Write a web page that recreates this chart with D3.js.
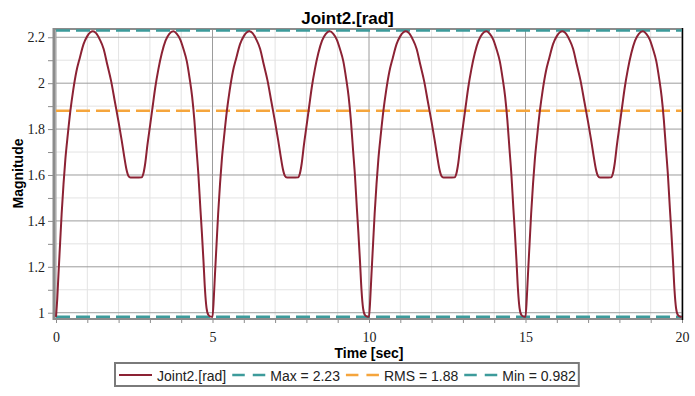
<!DOCTYPE html>
<html>
<head>
<meta charset="utf-8">
<script src="https://cdn.jsdelivr.net/npm/d3@7"></script>
<style>
  body { margin: 0; background: #fff; }
  .tick text { font-family: "Liberation Serif", "DejaVu Serif", "Times New Roman", serif !important; }
</style>
</head>
<body>
<div id="vis"></div>
<script>
// values
const time = [
  0.00,0.04,0.08,0.13,0.18,0.24,0.30,0.38,0.46,0.55,0.65,0.76,0.88,1.00,1.10,1.18,1.28,1.40,1.52,1.64,1.76,1.88,2.00,2.10,2.18,2.25,2.31,2.38,2.55,2.74,2.79,2.85,2.92,3.00,3.08,3.17,3.27,3.38,3.50,3.62,3.75,3.86,3.97,4.07,4.18,4.27,4.35,4.42,4.49,4.55,4.61,4.66,4.71,4.76,4.81,4.87,4.94,
  5.00,5.04,5.08,5.13,5.18,5.24,5.30,5.38,5.46,5.55,5.65,5.76,5.88,6.00,6.10,6.18,6.28,6.40,6.52,6.64,6.76,6.88,7.00,7.10,7.18,7.25,7.31,7.38,7.55,7.74,7.79,7.85,7.92,8.00,8.08,8.17,8.27,8.38,8.50,8.62,8.75,8.86,8.97,9.07,9.18,9.27,9.35,9.42,9.49,9.55,9.61,9.66,9.71,9.76,9.81,9.87,9.94,
  10.00,10.04,10.08,10.13,10.18,10.24,10.30,10.38,10.46,10.55,10.65,10.76,10.88,11.00,11.10,11.18,11.28,11.40,11.52,11.64,11.76,11.88,12.00,12.10,12.18,12.25,12.31,12.38,12.55,12.74,12.79,12.85,12.92,13.00,13.08,13.17,13.27,13.38,13.50,13.62,13.75,13.86,13.97,14.07,14.18,14.27,14.35,14.42,14.49,14.55,14.61,14.66,14.71,14.76,14.81,14.87,14.94,
  15.00,15.04,15.08,15.13,15.18,15.24,15.30,15.38,15.46,15.55,15.65,15.76,15.88,16.00,16.10,16.18,16.28,16.40,16.52,16.64,16.76,16.88,17.00,17.10,17.18,17.25,17.31,17.38,17.55,17.74,17.79,17.85,17.92,18.00,18.08,18.17,18.27,18.38,18.50,18.62,18.75,18.86,18.97,19.07,19.18,19.27,19.35,19.42,19.49,19.55,19.61,19.66,19.71,19.76,19.81,19.87,19.94,
  20.00
];
const joint2 = [
  0.982,1.06,1.17,1.30,1.43,1.56,1.67,1.78,1.88,1.97,2.05,2.11,2.17,2.205,2.222,2.226,2.218,2.19,2.15,2.08,2.01,1.92,1.83,1.75,1.68,1.625,1.597,1.589,1.589,1.590,1.605,1.65,1.73,1.81,1.89,1.98,2.06,2.13,2.185,2.215,2.226,2.215,2.19,2.15,2.095,2.02,1.94,1.84,1.71,1.60,1.46,1.35,1.23,1.10,1.02,0.990,0.983,
  0.982,1.06,1.17,1.30,1.43,1.56,1.67,1.78,1.88,1.97,2.05,2.11,2.17,2.205,2.222,2.226,2.218,2.19,2.15,2.08,2.01,1.92,1.83,1.75,1.68,1.625,1.597,1.589,1.589,1.590,1.605,1.65,1.73,1.81,1.89,1.98,2.06,2.13,2.185,2.215,2.226,2.215,2.19,2.15,2.095,2.02,1.94,1.84,1.71,1.60,1.46,1.35,1.23,1.10,1.02,0.990,0.983,
  0.982,1.06,1.17,1.30,1.43,1.56,1.67,1.78,1.88,1.97,2.05,2.11,2.17,2.205,2.222,2.226,2.218,2.19,2.15,2.08,2.01,1.92,1.83,1.75,1.68,1.625,1.597,1.589,1.589,1.590,1.605,1.65,1.73,1.81,1.89,1.98,2.06,2.13,2.185,2.215,2.226,2.215,2.19,2.15,2.095,2.02,1.94,1.84,1.71,1.60,1.46,1.35,1.23,1.10,1.02,0.990,0.983,
  0.982,1.06,1.17,1.30,1.43,1.56,1.67,1.78,1.88,1.97,2.05,2.11,2.17,2.205,2.222,2.226,2.218,2.19,2.15,2.08,2.01,1.92,1.83,1.75,1.68,1.625,1.597,1.589,1.589,1.590,1.605,1.65,1.73,1.81,1.89,1.98,2.06,2.13,2.185,2.215,2.226,2.215,2.19,2.15,2.095,2.02,1.94,1.84,1.71,1.60,1.46,1.35,1.23,1.10,1.02,0.990,0.983,
  0.982
];

// summary lines
const statNames = ['Max', 'RMS', 'Min'];
const statValues = [2.23, 1.88, 0.982];
const statLabels = ['Max = 2.23', 'RMS = 1.88', 'Min = 0.982'];

// ticks
const xTicks = [0, 5, 10, 15, 20];
const yTicks = [1, 1.2, 1.4, 1.6, 1.8, 2, 2.2];
const xMinor = [1, 2, 3, 4, 6, 7, 8, 9, 11, 12, 13, 14, 16, 17, 18, 19];
const yMinor = [1.1, 1.3, 1.5, 1.7, 1.9, 2.1];

const seriesName = 'Joint2.[rad]';

let margin = {top: 29, left: 56, right: 13, bottom: 78},
  width = 695 - margin.left - margin.right,
  height = 396 - margin.top - margin.bottom;

const colors = {curve: '#8c2234', Max: '#3d9b9b', RMS: '#f5a53c', Min: '#3d9b9b'};
const sans = '"Liberation Sans", Arial, sans-serif';
const serif = '"Liberation Serif", "DejaVu Serif", "Times New Roman", serif';

let svg = d3.select('#vis')
  .append('svg')
  .attr('width', 695)
  .attr('height', 396)
  .style('background-color', '#fff');

let g = svg.append('g')
  .attr('transform', 'translate(' + margin.left + ',' + margin.top + ')');

let x = d3.scaleLinear().domain([0, 20]).range([0, width]);
let y = d3.scaleLinear().domain([0.977, 2.236]).range([height, 0]);

// minor grid
g.append('g').selectAll('line').data(xMinor).join('line')
  .attr('x1', d => x(d)).attr('x2', d => x(d))
  .attr('y1', 0).attr('y2', height)
  .attr('stroke', '#e3e3e3');
g.append('g').selectAll('line').data(yMinor).join('line')
  .attr('x1', 0).attr('x2', width)
  .attr('y1', d => y(d)).attr('y2', d => y(d))
  .attr('stroke', '#e3e3e3');

// major grid
g.append('g').selectAll('line').data(xTicks).join('line')
  .attr('x1', d => x(d)).attr('x2', d => x(d))
  .attr('y1', 0).attr('y2', height)
  .attr('stroke', '#9c9c9c');
g.append('g').selectAll('line').data(yTicks).join('line')
  .attr('x1', 0).attr('x2', width)
  .attr('y1', d => y(d)).attr('y2', d => y(d))
  .attr('stroke', '#9c9c9c');

// axes (ticks + labels)
let yAxis = g.append('g')
  .attr('transform', 'translate(-3,0)')
  .call(d3.axisLeft(y).tickValues(yTicks.concat(yMinor)).tickSize(5).tickPadding(3)
    .tickFormat(d => yTicks.includes(d) ? d3.format('~g')(d) : ''))
  .attr('font-family', serif)
  .attr('font-size', 14);
yAxis.select('.domain').remove();
yAxis.selectAll('line').attr('stroke', '#8c8c8c');
yAxis.selectAll('text').attr('fill', '#222');

let xAxis = g.append('g')
  .attr('transform', 'translate(0,' + (height + 1) + ')')
  .call(d3.axisBottom(x).tickValues(xTicks.concat(xMinor)).tickSize(4).tickPadding(9)
    .tickFormat(d => xTicks.includes(d) ? d3.format('~g')(d) : ''))
  .attr('font-family', serif)
  .attr('font-size', 14);
xAxis.select('.domain').remove();
xAxis.selectAll('line').attr('stroke', '#8c8c8c');
xAxis.selectAll('text').attr('fill', '#222');

// frame
g.append('line').attr('x1', -2).attr('x2', -2).attr('y1', -1).attr('y2', height + 2)
  .attr('stroke', '#8c8c8c').attr('stroke-width', 3);
g.append('line').attr('x1', -3).attr('x2', width).attr('y1', height + 1).attr('y2', height + 1)
  .attr('stroke', '#8c8c8c').attr('stroke-width', 2);
g.append('line').attr('x1', -3).attr('x2', width).attr('y1', 0).attr('y2', 0)
  .attr('stroke', '#8c8c8c').attr('stroke-width', 2);
g.append('line').attr('x1', width + 0.5).attr('x2', width + 0.5).attr('y1', -1).attr('y2', height + 2)
  .attr('stroke', '#000').attr('stroke-width', 1.5);

// summary dashed lines
g.append('g').selectAll('line').data(statValues).join('line')
  .attr('x1', 0).attr('x2', width)
  .attr('y1', d => y(d)).attr('y2', d => y(d))
  .attr('stroke', (d, i) => colors[statNames[i]])
  .attr('stroke-width', 2.5)
  .attr('stroke-dasharray', '14,6');

// the signal
let points = time.map((t, i) => ({t: t, v: joint2[i]}));
g.append('path')
  .datum(points)
  .attr('fill', 'none')
  .attr('stroke', colors.curve)
  .attr('stroke-width', 2)
  .attr('d', d3.line().x(d => x(d.t)).y(d => y(d.v)).curve(d3.curveMonotoneX));

// titles
svg.append('text')
  .attr('x', 347.5).attr('y', 24)
  .attr('text-anchor', 'middle')
  .style('font-family', sans).style('font-size', '17px').style('font-weight', 'bold')
  .text(seriesName);

svg.append('text')
  .attr('x', margin.left + width / 2).attr('y', 358)
  .attr('text-anchor', 'middle')
  .style('font-family', sans).style('font-size', '14px').style('font-weight', 'bold')
  .text('Time [sec]');

svg.append('text')
  .attr('transform', 'translate(23,' + (margin.top + height / 2) + ') rotate(-90)')
  .attr('text-anchor', 'middle')
  .style('font-family', sans).style('font-size', '14px').style('font-weight', 'bold')
  .text('Magnitude');

// legend
let legendItems = [{label: seriesName, color: colors.curve, dash: null, w: 2}]
  .concat(statNames.map((n, i) => ({label: statLabels[i], color: colors[n], dash: '12.5,8', w: 2.5})));

let legend = svg.append('g');
let box = legend.append('rect')
  .attr('y', 363).attr('height', 23)
  .attr('fill', '#fff').attr('stroke', '#7a7a7a').attr('stroke-width', 2);

let cursor = 4;
legendItems.forEach(function(item, i) {
  legend.append('line')
    .attr('x1', cursor).attr('x2', cursor + 33)
    .attr('y1', 375).attr('y2', 375)
    .attr('stroke', item.color).attr('stroke-width', item.w)
    .attr('stroke-dasharray', item.dash);
  let txt = legend.append('text')
    .attr('x', cursor + 38).attr('y', 380.5)
    .style('font-family', sans).style('font-size', '14px').attr('fill', '#222')
    .text(item.label);
  cursor += 38 + txt.node().getComputedTextLength() + (i < legendItems.length - 1 ? 6 : 3);
});
box.attr('x', 0).attr('width', cursor);
legend.attr('transform', 'translate(' + Math.round(347 - cursor / 2) + ',0)');
</script>
</body>
</html>
